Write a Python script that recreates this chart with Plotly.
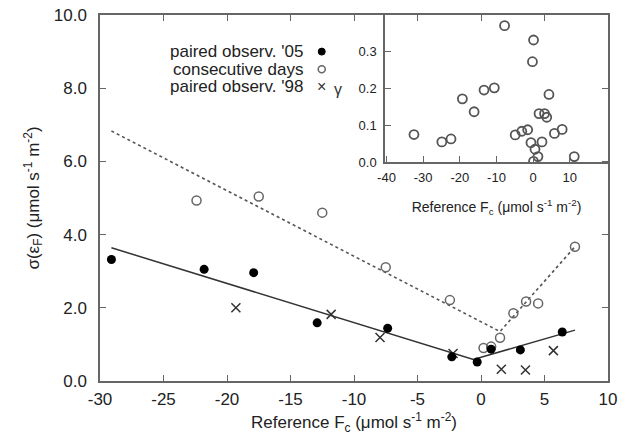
import plotly.graph_objects as go

# ---------------- data ----------------
# paired observations 2005 (filled circles)
p05_x = [-29.1, -21.8, -17.9, -12.9, -7.35, -2.3, -0.3, 0.8, 3.1, 6.4]
p05_y = [3.32, 3.05, 2.96, 1.59, 1.44, 0.66, 0.52, 0.87, 0.85, 1.34]

# consecutive days (open circles)
cd_x = [-22.4, -17.5, -12.5, -7.5, -2.45, 0.2, 0.8, 1.5, 2.55, 3.55, 4.5, 7.4]
cd_y = [4.93, 5.04, 4.60, 3.11, 2.21, 0.90, 0.94, 1.18, 1.85, 2.17, 2.12, 3.67]

# paired observations 1998 (crosses)
p98_x = [-19.3, -11.8, -7.95, -2.2, 1.6, 3.5, 5.7]
p98_y = [2.00, 1.82, 1.19, 0.75, 0.32, 0.30, 0.83]

# fitted piecewise lines
fit05_x = [-29.1, -0.6, 7.4]
fit05_y = [3.64, 0.59, 1.39]
fitcd_x = [-29.1, 1.5, 7.4]
fitcd_y = [6.83, 1.35, 3.67]

# inset data
ins_x = [-32.5, -24.9, -22.4, -19.3, -16.1, -13.4, -10.6, -7.8, 0.1, -0.2,
         4.3, 1.6, 3.1, 3.7, -4.9, -3.1, -1.5, 5.8, 7.9, -0.6, 2.4, 0.5,
         1.3, 0.1, 11.2]
ins_y = [0.075, 0.055, 0.063, 0.172, 0.137, 0.196, 0.202, 0.371, 0.332, 0.273,
         0.184, 0.132, 0.132, 0.122, 0.074, 0.084, 0.088, 0.078, 0.089, 0.053,
         0.055, 0.035, 0.015, 0.002, 0.015]

main_xticks = [-30, -25, -20, -15, -10, -5, 0, 5, 10]
main_xlabels = ["-30", "-25", "-20", "-15", "-10", "-5", "0", "5", "10"]
main_yticks = [0, 2, 4, 6, 8, 10]
main_ylabels = ["0.0", "2.0", "4.0", "6.0", "8.0", "10.0"]
ins_xticks = [-40, -30, -20, -10, 0, 10]
ins_xlabels = ["-40", "-30", "-20", "-10", "0", "10"]
ins_yticks = [0, 0.1, 0.2, 0.3]
ins_ylabels = ["0.0", "0.1", "0.2", "0.3"]

legend_labels = ["paired observ. '05", "consecutive days", "paired observ. '98"]

FONT = "Liberation Sans, Arial, Helvetica, sans-serif"
AX = "#666666"
TXT = "#222222"

fig = go.Figure()

fig.add_trace(go.Scatter(x=fitcd_x, y=fitcd_y, mode="lines",
                         line=dict(color="#555555", width=1.6, dash="dot"),
                         showlegend=False, hoverinfo="skip"))
fig.add_trace(go.Scatter(x=fit05_x, y=fit05_y, mode="lines",
                         line=dict(color="#333333", width=1.5),
                         showlegend=False, hoverinfo="skip"))
fig.add_trace(go.Scatter(x=cd_x, y=cd_y, mode="markers",
                         marker=dict(symbol="circle-open", size=9,
                                     color="#666666", line=dict(width=1.5)),
                         showlegend=False))
fig.add_trace(go.Scatter(x=p98_x, y=p98_y, mode="markers",
                         marker=dict(symbol="x-thin", size=9,
                                     color="#333333", line=dict(width=1.5, color="#333333")),
                         showlegend=False))
fig.add_trace(go.Scatter(x=p05_x, y=p05_y, mode="markers",
                         marker=dict(symbol="circle", size=9, color="#000000"),
                         showlegend=False))

# inset
fig.add_trace(go.Scatter(x=ins_x, y=ins_y, mode="markers", xaxis="x2", yaxis="y2",
                         marker=dict(symbol="circle-open", size=9,
                                     color="#555555", line=dict(width=1.8)),
                         showlegend=False))

# legend (text at left, key at right)
leg_y = [9.0, 8.52, 8.04]
for lab, yy in zip(legend_labels, leg_y):
    fig.add_annotation(x=-13.94, y=yy, xref="x", yref="y", text=lab,
                       showarrow=False, xanchor="right", yanchor="middle",
                       borderpad=0,
                       font=dict(family=FONT, size=17, color=TXT))
fig.add_shape(type="circle", xref="x", yref="y", xsizemode="pixel", ysizemode="pixel",
              xanchor=-12.54, yanchor=leg_y[0], x0=-3.5, x1=3.5, y0=-3.5, y1=3.5,
              fillcolor="#000000", line=dict(color="#000000", width=1))
fig.add_shape(type="circle", xref="x", yref="y", xsizemode="pixel", ysizemode="pixel",
              xanchor=-12.54, yanchor=leg_y[1], x0=-3.5, x1=3.5, y0=-3.5, y1=3.5,
              fillcolor="rgba(0,0,0,0)", line=dict(color="#666666", width=1.5))
fig.add_annotation(x=-12.54, y=leg_y[2], xref="x", yref="y", text="×",
                   showarrow=False, xanchor="center", yanchor="middle",
                   font=dict(family=FONT, size=16, color="#333333"))
fig.add_annotation(x=-11.26, y=leg_y[2] - 0.08, xref="x", yref="y", text="γ",
                   showarrow=False, xanchor="center", yanchor="middle",
                   font=dict(family=FONT, size=16, color="#333333"))

unit = " (μmol s<sup>-1</sup> m<sup>-2</sup>)"

fig.update_layout(
    width=629, height=437,
    margin=dict(l=100, r=21, t=15, b=56),
    paper_bgcolor="white", plot_bgcolor="rgba(0,0,0,0)",
    font=dict(family=FONT, size=17, color=TXT),
    showlegend=False,
    xaxis=dict(range=[-30, 10], tickvals=main_xticks, ticktext=main_xlabels,
               ticks="inside", ticklen=6, automargin=False,
               tickcolor=AX, showline=True, linecolor=AX, linewidth=1.5,
               mirror="ticks", showgrid=False, zeroline=False,
               ticklabelstandoff=2,
               title=dict(text="Reference F<sub>c</sub>" + unit, standoff=8,
                          font=dict(size=17))),
    yaxis=dict(range=[0, 10], tickvals=main_yticks, ticktext=main_ylabels,
               ticks="inside", ticklen=6, tickcolor=AX, showline=True,
               automargin=False,
               linecolor=AX, linewidth=1.5, mirror="ticks", showgrid=False,
               zeroline=False, ticklabelstandoff=8,
               title=dict(text="σ(ε<sub>F</sub>)" + unit, standoff=10,
                          font=dict(size=17))),
    xaxis2=dict(domain=[0.561, 1.0], anchor="y2", range=[-40.4, 20.4],
                tickvals=ins_xticks, ticktext=ins_xlabels, automargin=False,
                ticks="inside", ticklen=6, tickcolor=AX,
                showline=True, linecolor=AX, linewidth=1.5, mirror=True,
                showgrid=False, zeroline=False, tickfont=dict(size=13),
                ticklabelstandoff=3,
                title=dict(text="Reference F<sub>c</sub>" + unit, standoff=18,
                           font=dict(size=14))),
    yaxis2=dict(domain=[0.598, 1.0], anchor="x2", range=[0, 0.4],
                tickvals=ins_yticks, ticktext=ins_ylabels, automargin=False,
                ticks="inside", ticklen=6,
                tickcolor=AX, showline=True, linecolor=AX, linewidth=1.5,
                mirror=True, showgrid=False, zeroline=False,
                tickfont=dict(size=13), ticklabelstandoff=4),
)

fig.write_html("out.html",
               config={"displayModeBar": False},
               post_script="document.body.style.margin='0';"
                           "document.body.style.overflow='hidden';")
